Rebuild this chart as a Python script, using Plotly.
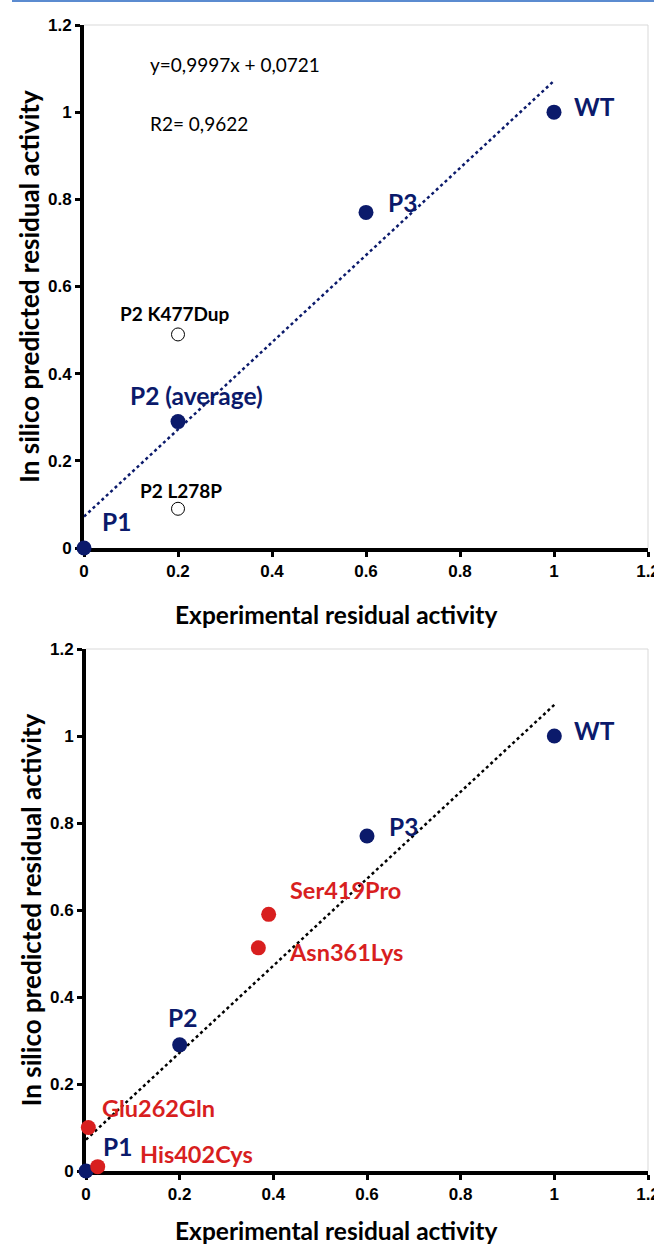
import plotly.graph_objects as go

# ---------------- data ----------------
# top chart
top_names = ["P1", "P2 (average)", "P3", "WT"]
top_x = [0.0, 0.2, 0.6, 1.0]
top_y = [0.0, 0.29, 0.77, 1.0]
open_names = ["P2 K477Dup", "P2 L278P"]
open_x = [0.2, 0.2]
open_y = [0.49, 0.09]
fit_slope = 0.9997
fit_intercept = 0.0721
fit_x = [0.0, 1.0]
eq_text = "y=0,9997x + 0,0721"
r2_text = "R2= 0,9622"

# bottom chart
bot_names = ["P1", "P2", "P3", "WT"]
bot_x = [0.0, 0.2, 0.6, 1.0]
bot_y = [0.0, 0.29, 0.77, 1.0]
red_names = ["Ser419Pro", "Asn361Lys", "Glu262Gln", "His402Cys"]
red_x = [0.39, 0.368, 0.005, 0.025]
red_y = [0.59, 0.513, 0.10, 0.01]

tick_vals = [0, 0.2, 0.4, 0.6, 0.8, 1.0, 1.2]
tick_text = ["0", "0.2", "0.4", "0.6", "0.8", "1", "1.2"]
x_title = "Experimental residual activity"
y_title = "In silico predicted residual activity"

# ---------------- style ----------------
NAVY = "#0b1a6b"
RED = "#d81f1f"
TITLE_FONT = "Lato, Carlito, Calibri, sans-serif"
TICK_FONT = "Liberation Sans, Arial, sans-serif"

W, H = 654, 1248
ML, MR, MT, MB = 84, 6, 25, 77
plot_w = W - ML - MR
plot_h = H - MT - MB
top_dom = [1 - 523 / plot_h, 1]
bot_dom = [0, 522 / plot_h]


def px_to_paper(px, py):
    return (px - ML) / plot_w, 1 - (py - MT) / plot_h


# label offsets (pixels) per point, style only
top_off = [("left", 16, 27), ("center", 18, 26), ("left", 20, 10), ("left", 18, 6)]
open_off = [("center", -3, 21), ("center", 3, 18)]
bot_off = [("left", 15, 25), ("center", 3, 27), ("left", 20, 10), ("left", 18, 6)]
red_off = [("left", 19, 24), ("left", 29, -4), ("left", 12, 20), ("left", 40, 13)]

fig = go.Figure()

fit_y = [fit_slope * v + fit_intercept for v in fit_x]

# top
fig.add_trace(go.Scatter(x=fit_x, y=fit_y, mode="lines", xaxis="x", yaxis="y",
                         line=dict(color=NAVY, width=2.5, dash="dot"), cliponaxis=False,
                         hoverinfo="skip"))
fig.add_trace(go.Scatter(x=open_x, y=open_y, mode="markers", xaxis="x", yaxis="y",
                         marker=dict(size=13, color="white", line=dict(color="black", width=1)),
                         cliponaxis=False))
fig.add_trace(go.Scatter(x=top_x, y=top_y, mode="markers", xaxis="x", yaxis="y",
                         marker=dict(size=15, color=NAVY), cliponaxis=False))

# bottom
fig.add_trace(go.Scatter(x=fit_x, y=fit_y, mode="lines", xaxis="x2", yaxis="y2",
                         line=dict(color="black", width=2.5, dash="dot"), cliponaxis=False,
                         hoverinfo="skip"))
fig.add_trace(go.Scatter(x=bot_x, y=bot_y, mode="markers", xaxis="x2", yaxis="y2",
                         marker=dict(size=15, color=NAVY), cliponaxis=False))
fig.add_trace(go.Scatter(x=red_x, y=red_y, mode="markers", xaxis="x2", yaxis="y2",
                         marker=dict(size=15, color=RED), cliponaxis=False))

ann = []


def add_labels(names, xs, ys, offs, xr, yr, color, size):
    for n, x, y, (anc, dx, dy) in zip(names, xs, ys, offs):
        ann.append(dict(x=x, y=y, xref=xr, yref=yr, text=n, showarrow=False,
                        xanchor=anc, yanchor="middle", xshift=dx, yshift=dy,
                        font=dict(family=TITLE_FONT, size=size, color=color, weight=700)))


add_labels(top_names, top_x, top_y, top_off, "x", "y", NAVY, 24.5)
add_labels(open_names, open_x, open_y, open_off, "x", "y", "black", 19)
add_labels(bot_names, bot_x, bot_y, bot_off, "x2", "y2", NAVY, 24.5)
add_labels(red_names, red_x, red_y, red_off, "x2", "y2", RED, 23.5)

# equation texts
for txt, px, py in [(eq_text, 148, 64), (r2_text, 148, 124)]:
    xp, yp = px_to_paper(px, py)
    ann.append(dict(x=xp, y=yp, xref="paper", yref="paper", text=txt, showarrow=False,
                    xanchor="left", yanchor="middle",
                    font=dict(family=TITLE_FONT, size=19, color="black")))

# x-axis titles (placed like the reference, slightly left of the axis centre)
xt_font = dict(family=TITLE_FONT, size=24.5, color="black", weight=700)
for px, py in [(336, 614), (336, 1230)]:
    xp, yp = px_to_paper(px, py)
    ann.append(dict(x=xp, y=yp, xref="paper", yref="paper", text=x_title, showarrow=False,
                    xanchor="center", yanchor="middle", font=xt_font))

axis_common = dict(range=[0, 1.2], tickvals=tick_vals, ticktext=tick_text,
                   showgrid=False, zeroline=False, showline=True, linecolor="black",
                   linewidth=4, ticks="outside", ticklen=5, tickwidth=3, tickcolor="black",
                   tickfont=dict(family=TICK_FONT, size=17, color="black", weight=700),
                   ticklabeloverflow="allow", automargin=False,
                   layer="below traces", fixedrange=True)
yt_font = dict(family=TITLE_FONT, size=26, color="black", weight=700)

fig.update_layout(
    width=W, height=H, margin=dict(l=ML, r=MR, t=MT, b=MB),
    paper_bgcolor="white", plot_bgcolor="white", showlegend=False,
    xaxis=dict(axis_common, domain=[0, 1], anchor="y"),
    yaxis=dict(axis_common, domain=top_dom, anchor="x",
               title=dict(text=y_title, font=yt_font, standoff=2)),
    xaxis2=dict(axis_common, domain=[2 / plot_w, 1], anchor="y2"),
    yaxis2=dict(axis_common, domain=bot_dom, anchor="x2",
                title=dict(text=y_title, font=yt_font, standoff=2)),
    annotations=ann,
    shapes=[
        dict(type="path", xref="x domain", yref="y domain",
             path="M 0 1 L 1 1 L 1 0", line=dict(color="#d9d9d9", width=1)),
        dict(type="path", xref="x2 domain", yref="y2 domain",
             path="M 0 1 L 1 1 L 1 0", line=dict(color="#d9d9d9", width=1)),
        dict(type="line", xref="paper", yref="paper",
             x0=(12 - ML) / plot_w, x1=(W - ML) / plot_w,
             y0=1 + (MT - 1) / plot_h, y1=1 + (MT - 1) / plot_h,
             line=dict(color="#5b8bd0", width=2)),
    ],
)

fig.write_html("out.html")
